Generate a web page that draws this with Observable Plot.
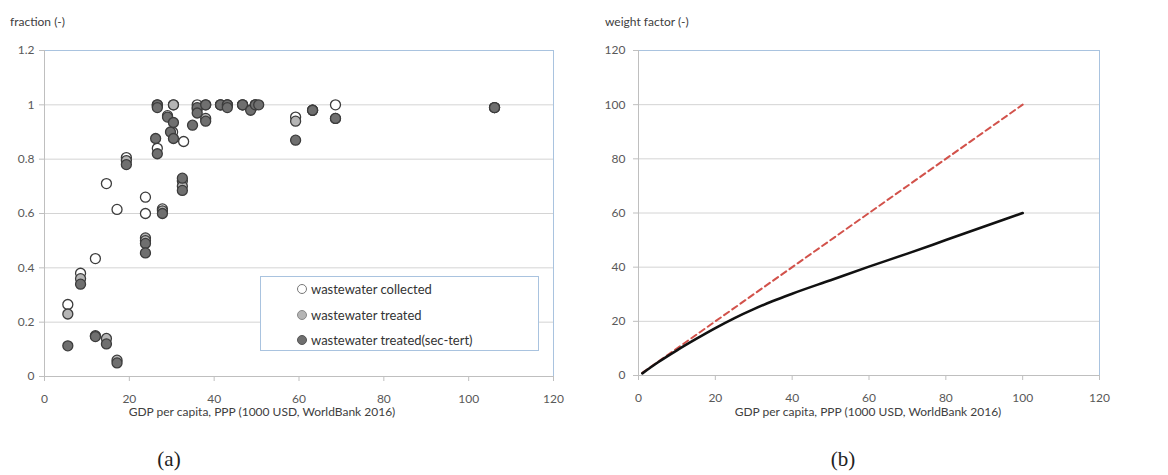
<!DOCTYPE html>
<html>
<head>
<meta charset="utf-8">
<script src="https://cdn.jsdelivr.net/npm/d3@7"></script>
<script src="https://cdn.jsdelivr.net/npm/@observablehq/plot@0.6"></script>
<style>
  html, body { margin: 0; padding: 0; background: #fff; }
  #wrap { position: relative; width: 1168px; height: 475px; overflow: hidden; font-family: Lato, "Open Sans", sans-serif; color: #595959; }
  .abs { position: absolute; white-space: nowrap; }
  .ytitle { font-size: 12px; color: #404040; }
  .xtitle { font-size: 12px; color: #404040; transform: translateX(-50%); }
  .panel { font-family: "Liberation Serif", "DejaVu Serif", serif; font-size: 21px; color: #222; transform: translateX(-50%); }
  #legend { position: absolute; left: 260px; top: 276px; width: 279px; height: 75px; border: 1px solid #a9c3df; background: #fff; box-sizing: border-box; }
  .lg { position: absolute; left: 36px; font-size: 13px; color: #333; display: flex; align-items: center; }
  .lg i { display: inline-block; width: 8px; height: 8px; border-radius: 50%; border: 1px solid #555; margin-right: 4px; }
</style>
</head>
<body>
<div id="wrap"></div>
<script>
// ---------- data (a) ----------
const seriesNames = ["wastewater collected", "wastewater treated", "wastewater treated(sec-tert)"];
const seriesFill = ["#ffffff", "#b5b5b5", "#6f6f6f"];

const collectedX = [5.5, 8.5, 12, 14.6, 17.1, 19.3, 23.8, 23.8, 26.6, 26.6, 27.8, 29, 30.4, 30.2, 32.8, 32.5, 36, 38, 41.5, 43.1, 46.7, 49.7, 59.2, 63.2, 68.6, 106.1];
const collectedY = [0.265, 0.38, 0.434, 0.71, 0.615, 0.806, 0.66, 0.60, 1.0, 0.84, 0.617, 0.96, 1.0, 0.90, 0.865, 0.72, 1.0, 1.0, 1.0, 1.0, 1.0, 1.0, 0.955, 0.98, 1.0, 0.99];

const treatedX = [5.5, 8.5, 12, 14.6, 17.1, 19.3, 23.8, 23.8, 26.6, 27.8, 30.4, 32.5, 36, 38, 41.5, 43.1, 46.7, 49.7, 59.2, 63.2, 68.6, 106.1];
const treatedY = [0.23, 0.36, 0.15, 0.14, 0.06, 0.795, 0.51, 0.50, 0.995, 0.61, 1.0, 0.70, 0.985, 0.95, 1.0, 1.0, 1.0, 1.0, 0.94, 0.98, 0.95, 0.99];

const secTertX = [5.5, 8.5, 12, 14.6, 17.1, 19.3, 23.8, 23.8, 26.2, 26.6, 26.6, 26.6, 27.8, 29, 29.7, 30.4, 30.4, 32.5, 32.5, 34.9, 36, 36, 38, 38, 41.5, 43.1, 43.1, 46.7, 48.6, 49.7, 50.5, 59.2, 63.2, 68.6, 106.1];
const secTertY = [0.113, 0.34, 0.147, 0.12, 0.05, 0.78, 0.49, 0.455, 0.876, 0.82, 1.0, 0.99, 0.60, 0.955, 0.90, 0.935, 0.876, 0.73, 0.685, 0.925, 0.99, 0.97, 1.0, 0.94, 1.0, 1.0, 0.99, 1.0, 0.98, 1.0, 1.0, 0.87, 0.98, 0.95, 0.99];

const xTicksA = [0, 20, 40, 60, 80, 100, 120];
const yTicksA = [0, 0.2, 0.4, 0.6, 0.8, 1, 1.2];

// ---------- data (b) ----------
const diagX = [1, 100];
const diagY = [1, 100];
const weightX = [1, 5, 10, 15, 20, 25, 30, 35, 40, 50, 60, 70, 80, 90, 100];
const weightY = [0.8, 4.8, 9.3, 13.5, 17.5, 21.2, 24.5, 27.5, 30.2, 35.2, 40.2, 45, 50, 55, 60];

const xTicksB = [0, 20, 40, 60, 80, 100, 120];
const yTicksB = [0, 20, 40, 60, 80, 100, 120];

// ---------- build ----------
const zip = (xs, ys, s) => xs.map((x, i) => ({x, y: ys[i], s}));
const pts = [
  ...zip(collectedX, collectedY, 0),
  ...zip(treatedX, treatedY, 1),
  ...zip(secTertX, secTertY, 2)
];

const gridC = "#d4d4d4", axC = "#bfbfbf", frameC = "#a9c3df";
const style = {fontFamily: "Lato, 'Open Sans', sans-serif", fontSize: "12px", color: "#595959", background: "transparent", overflow: "visible"};

const chartA = Plot.plot({
  width: 580, height: 420,
  marginLeft: 44, marginRight: 27, marginTop: 50, marginBottom: 44,
  style,
  x: {domain: [0, 120]},
  y: {domain: [0, 1.2]},
  marks: [
    Plot.ruleY(yTicksA.slice(1, -1), {stroke: gridC, strokeWidth: 1}),
    Plot.frame({stroke: frameC}),
    Plot.ruleX([0], {stroke: axC}),
    Plot.ruleY([0], {stroke: axC}),
    Plot.axisY(yTicksA, {tickSize: 5, tickPadding: 5, stroke: axC, label: null, tickFormat: d => String(d)}),
    Plot.axisX(xTicksA, {tickSize: 5, tickPadding: 13, stroke: axC, label: null, tickFormat: d => String(d)}),
    Plot.dot(pts, {x: "x", y: "y", r: 5, fill: d => seriesFill[d.s], stroke: "#3c3c3c", strokeWidth: 1.3})
  ]
});

const lineData = [
  ...zip(diagX, diagY, "diag"),
  ...zip(weightX, weightY, "weight")
];

const chartB = Plot.plot({
  width: 570, height: 420,
  marginLeft: 48, marginRight: 61, marginTop: 50, marginBottom: 45,
  style,
  x: {domain: [0, 120]},
  y: {domain: [0, 120]},
  marks: [
    Plot.ruleY(yTicksB.slice(1, -1), {stroke: gridC, strokeWidth: 1}),
    Plot.frame({stroke: frameC}),
    Plot.ruleX([0], {stroke: axC}),
    Plot.ruleY([0], {stroke: axC}),
    Plot.axisY(yTicksB, {tickSize: 5, tickPadding: 8, stroke: axC, label: null}),
    Plot.axisX(xTicksB, {tickSize: 5, tickPadding: 13, stroke: axC, label: null}),
    Plot.line(zip(diagX, diagY), {x: "x", y: "y", stroke: "#d2524b", strokeWidth: 2, strokeDasharray: "6,4"}),
    Plot.line(zip(weightX, weightY), {x: "x", y: "y", stroke: "#111", strokeWidth: 2.6, curve: "monotone-x"})
  ]
});

const wrap = document.getElementById("wrap");
chartA.style.position = "absolute"; chartA.style.left = "0px"; chartA.style.top = "0px";
chartB.style.position = "absolute"; chartB.style.left = "590px"; chartB.style.top = "0px";
wrap.appendChild(chartA);
wrap.appendChild(chartB);

function addText(cls, text, left, top) {
  const d = document.createElement("div");
  d.className = "abs " + cls;
  d.textContent = text;
  d.style.left = left + "px";
  d.style.top = top + "px";
  wrap.appendChild(d);
}
addText("ytitle", "fraction (-)", 10, 14);
addText("ytitle", "weight factor (-)", 605, 14);
addText("xtitle", "GDP per capita, PPP (1000 USD, WorldBank 2016)", 262, 404);
addText("xtitle", "GDP per capita, PPP (1000 USD, WorldBank 2016)", 868, 404);
addText("panel", "(a)", 169, 447);
addText("panel", "(b)", 843, 447);

const lg = document.createElement("div");
lg.id = "legend";
seriesNames.forEach((name, i) => {
  const row = document.createElement("div");
  row.className = "lg";
  row.style.top = (4 + i * 25.5) + "px";
  const m = document.createElement("i");
  m.style.background = seriesFill[i];
  if (i === 0) m.style.borderColor = "#777";
  if (i === 1) m.style.borderColor = "#888";
  row.appendChild(m);
  row.appendChild(document.createTextNode(name));
  lg.appendChild(row);
});
wrap.appendChild(lg);
</script>
</body>
</html>
